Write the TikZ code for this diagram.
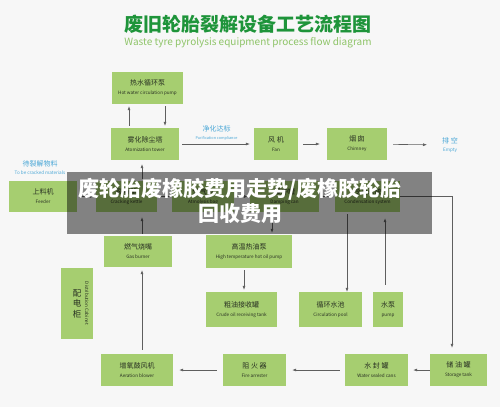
\documentclass[tikz,border=0pt]{standalone}
\usepackage{fontspec}
\setmainfont{Noto Sans CJK SC}
\usepackage{xcolor}
\usepackage{tikz}
\usetikzlibrary{arrows.meta}

\definecolor{boxgreen}{RGB}{166,206,112}
\definecolor{titlegreen}{RGB}{30,148,58}
\definecolor{subgreen}{RGB}{142,196,104}
\definecolor{noteblue}{RGB}{72,166,214}
\definecolor{bggray}{RGB}{247,247,247}
\definecolor{linegray}{RGB}{95,95,95}
\definecolor{boxtext}{RGB}{40,48,34}

\newcommand{\en}[1]{{\fontsize{4.6}{5}\selectfont #1}}

\begin{document}
\begin{tikzpicture}[
    x=1pt, y=-1pt,
    box/.style={
      fill=boxgreen,
      align=center,
      inner sep=0pt,
      minimum height=32pt,
      text=boxtext,
      font=\fontsize{7}{9}\selectfont
    },
    note/.style={
      align=center,
      inner sep=1pt,
      text=noteblue,
      font=\fontsize{7}{8}\selectfont
    },
    arrow/.style={
      -{Latex[length=4pt, width=3pt]},
      line width=0.6pt,
      draw=linegray,
      shorten <=2pt,
      shorten >=2pt
    }
  ]

    % Canvas
    \fill[bggray] (0,0) rectangle (500,407);

    % Heading
    \node[text=titlegreen, font=\fontsize{19}{21}\selectfont\bfseries] (title) at (248,24) {废旧轮胎裂解设备工艺流程图};
    \node[text=subgreen, font=\fontsize{10}{11}\selectfont] (subtitle) at (248,43) {Waste tyre pyrolysis equipment process flow diagram};

    % Exhaust line
    \node[box, minimum width=71pt] (hwpump) at (147.5,88) {热水循环泵\\\en{Hot water circulation pump}};
    \node[box, minimum width=68pt] (tower) at (145,144) {雾化除尘塔\\\en{Atomization tower}};
    \node[box, minimum width=44pt] (fan) at (276,144) {风\ 机\\\en{Fan}};
    \node[box, minimum width=60pt] (chimney) at (357,144) {烟\,囱\\\en{Chimney}};
    \node[note] (vent) at (450,145) {排\ 空\\\en{Empty}};

    % Pyrolysis line
    \node[note] (feednote) at (40,168) {待裂解物料\\\en{To be cracked materials}};
    \node[box, minimum width=68pt, minimum height=31pt] (feeder) at (43,196.5) {上料机\\\en{Feeder}};
    \node[box, minimum width=61pt, minimum height=31pt] (kettle) at (126.5,196.5) {裂解釜\\\en{Cracking kettle}};
    \node[box, minimum width=62pt, minimum height=31pt] (bag) at (203,196.5) {分气包\\\en{Atmolysis bag}};
    \node[box, minimum width=69pt, minimum height=31pt] (damper) at (284.5,196.5) {缓冲罐\\\en{Damping can}};
    \node[box, minimum width=65pt, minimum height=31pt] (condenser) at (367.5,196.5) {冷凝系统\\\en{Condensation system}};

    % Heating and oil
    \node[box, minimum width=68pt, minimum height=31pt] (burner) at (138,251.5) {燃气烧嘴\\\en{Gas burner}};
    \node[box, minimum width=86pt, minimum height=33pt] (oilpump) at (249,251.5) {高温热油泵\\\en{High temperature hot oil pump}};
    \node[box, minimum width=71pt, minimum height=35pt] (crudetank) at (241.5,309.5) {粗油接收罐\\\en{Crude oil receiving tank}};
    \node[box, minimum width=63pt, minimum height=35pt] (pool) at (330.5,309.5) {循环水池\\\en{Circulation pool}};
    \node[box, minimum width=30pt, minimum height=35pt] (wpump) at (388,309.5) {水泵\\\en{pump}};

    % Cabinet
    \node[box, minimum width=32pt, minimum height=71pt] (cabinet) at (77,303.5) {};
    \node[text=boxtext, align=center, inner sep=0pt, font=\fontsize{8.5}{10.5}\selectfont] (cabcn) at (cabinet.center) {配\\电\\柜};
    \node[text=boxtext, rotate=-90, inner sep=0pt, font=\fontsize{4.6}{5}\selectfont] (caben) at ([xshift=10pt]cabinet.center) {Distribution Cabinet};

    % Gas return line
    \node[box, minimum width=72pt] (blower) at (137,370) {增氧鼓风机\\\en{Aeration blower}};
    \node[box, minimum width=63pt] (arrester) at (254.5,370) {阻\ 火\ 器\\\en{Fire arrester}};
    \node[box, minimum width=63pt] (sealer) at (376.5,370) {水\ 封\ 罐\\\en{Water sealed cans}};
    \node[box, minimum width=57pt] (storage) at (458.5,370) {储\ 油\ 罐\\\en{Storage tank}};

    % Arrows
    \draw[arrow] ([xshift=-16pt]tower.north) -- ([xshift=-16pt]tower.north |- hwpump.south);
    \draw[arrow] ([xshift=20pt]tower.north |- hwpump.south) -- ([xshift=20pt]tower.north);
    \draw[arrow, shorten <=3pt, shorten >=4pt] (tower) -- node[note, above=2pt] {净化达标\\{\fontsize{3.8}{4}\selectfont Purification compliance}} (fan);
    \draw[arrow, shorten <=5pt, shorten >=7pt] (fan) -- (chimney);
    \draw[arrow, shorten <=6pt, shorten >=14pt] (chimney) -- (vent);

    \draw[arrow] (feeder) -- (kettle);
    \draw[arrow] (kettle) -- (bag);
    \draw[arrow] (bag) -- (damper);
    \draw[arrow] (damper) -- (condenser);

    \draw[arrow, shorten >=4pt] ([xshift=15.5pt]kettle.north) -- ([xshift=15.5pt]kettle.north |- tower.south);
    \draw[arrow, shorten >=5pt] ([xshift=4pt]burner.north) -- ([xshift=4pt]burner.north |- kettle.south);
    \draw[arrow, shorten <=4pt, shorten >=3pt] ([xshift=5pt]blower.north) -- ([xshift=5pt]blower.north |- burner.south);
    \draw[arrow] ([xshift=-12.5pt]damper.south) -- ([xshift=-12.5pt]damper.south |- oilpump.north);
    \draw[arrow] ([xshift=-5pt]oilpump.south) -- ([xshift=-5pt]oilpump.south |- crudetank.north);
    \draw[arrow, shorten >=0pt] ([xshift=-20.5pt]condenser.south) -- ([xshift=-20.5pt]condenser.south |- pool.north);
    \draw[arrow, shorten <=7pt, shorten >=6pt] ([xshift=-3pt]wpump.north) -- ([xshift=-3pt]wpump.north |- condenser.south);
    \draw[arrow, shorten <=0pt, shorten >=6pt] (condenser.east) -| ([xshift=-6.5pt]storage.north);

    \draw[arrow, shorten <=0pt, shorten >=5pt] (storage) -- (sealer);
    \draw[arrow, shorten <=5pt, shorten >=6pt] (sealer) -- (arrester);
    \draw[arrow, shorten <=6pt, shorten >=6pt] (arrester) -- (blower);

    % Overlay
    \fill[black, opacity=0.47] (67,172) rectangle (432,234);
    \node[text=white, align=center, font=\fontsize{21}{25}\selectfont\bfseries] (banner) at (240,200.5) {废轮胎废橡胶费用走势/废橡胶轮胎\\回收费用};

  \end{tikzpicture}
\end{document}
